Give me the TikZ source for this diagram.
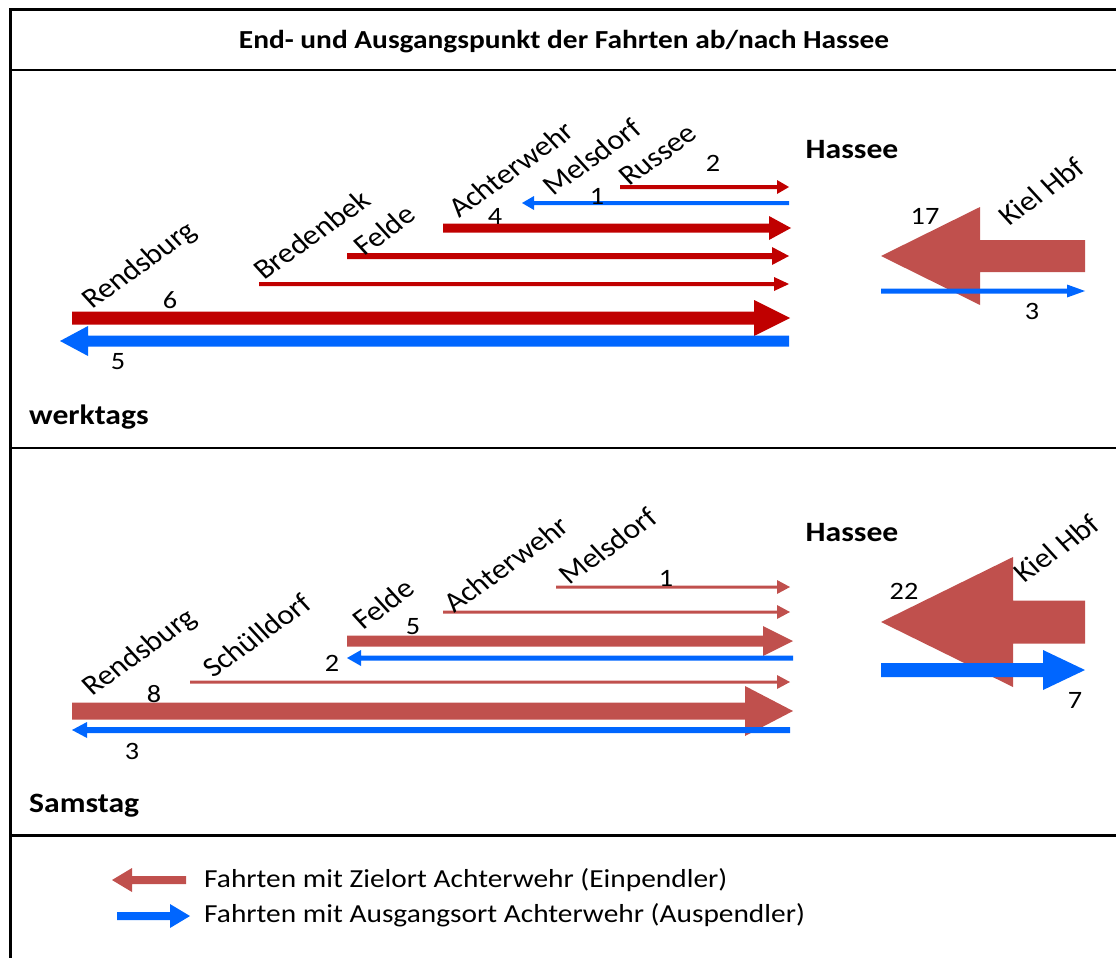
\documentclass[tikz,border=0pt]{standalone}
\usepackage{fontspec}
\setmainfont{Carlito}
\definecolor{dred}{HTML}{C00000}
\definecolor{lred}{HTML}{C0504D}
\definecolor{mblue}{HTML}{0066FF}
% #1 tail x, #2 tip x, #3 y, #4 shaft thickness, #5 head height, #6 signed head length, #7 colour
\newcommand{\flowarrow}[7]{\fill[#7] (#1,{#3-#4/2}) -- ({#2-(#6)},{#3-#4/2}) -- ({#2-(#6)},{#3-#5/2}) -- (#2,#3) -- ({#2-(#6)},{#3+#5/2}) -- ({#2-(#6)},{#3+#4/2}) -- (#1,{#3+#4/2}) -- cycle;}
\tikzset{
  num/.style={inner sep=0pt, xscale=1.13, font=\fontsize{25}{30}\selectfont},
  stn/.style={inner sep=0pt, anchor=base west, xscale=1.13, rotate=39, font=\fontsize{28}{33}\selectfont},
  hd/.style={inner sep=0pt, xscale=1.13, font=\bfseries\fontsize{28}{34}\selectfont},
  ttl/.style={inner sep=0pt, xscale=1.13, font=\bfseries\fontsize{26}{31}\selectfont},
  leg/.style={inner sep=0pt, anchor=west, xscale=1.13, font=\fontsize{26}{31}\selectfont},
  frame/.style={line width=3pt},
  sep/.style={line width=2pt}
}
\begin{document}
\begin{tikzpicture}[x=1pt,y=-1pt]
\useasboundingbox (0,0) rectangle (1116,958);
% frame
\draw[frame] (10,958) -- (10,10) -- (1120,10);
\draw[sep] (10,70) -- (1120,70);
\draw[sep] (10,448) -- (1120,448);
\draw[frame] (10,835) -- (1120,835);
\node[ttl] (title) at (564,42) {End- und Ausgangspunkt der Fahrten ab/nach Hassee};

% ---------- werktags ----------
\flowarrow{620}{789}{187}{4}{14}{12}{dred}
\flowarrow{789}{522}{203}{4}{14}{-12}{mblue}
\flowarrow{443}{791}{228}{9}{24}{22}{dred}
\flowarrow{347}{789}{256}{6}{18}{17}{dred}
\flowarrow{259}{789}{284}{4}{14}{15}{dred}
\flowarrow{72}{790}{318}{13}{36}{36}{dred}
\flowarrow{789}{60}{341}{11}{30}{-28}{mblue}
\flowarrow{1085}{881}{256}{32}{98}{-99}{lred}
\flowarrow{881}{1085}{291}{5}{13}{18}{mblue}

\node[stn] (wren) at (92,310) {Rendsburg};
\node[stn] (wbre) at (264,281) {Bredenbek};
\node[stn] (wfel) at (364,257) {Felde};
\node[stn] (wach) at (459,219) {Achterwehr};
\node[stn] (wmel) at (553,197) {Melsdorf};
\node[stn] (wrus) at (629,187) {Russee};
\node[stn] (wkiel) at (1009,227) {Kiel Hbf};
\node[hd] (whas) at (852,150) {Hassee};
\node[hd, anchor=west] (wlab) at (29,417) {werktags};
\node[num] (wn2) at (713,163) {2};
\node[num] (wn1) at (597,196) {1};
\node[num] (wn4) at (495,216) {4};
\node[num] (wn6) at (170,300) {6};
\node[num] (wn5) at (118,362) {5};
\node[num] (wn17) at (925,216) {17};
\node[num] (wn3) at (1032,311) {3};

% ---------- Samstag ----------
\flowarrow{556}{790}{587}{3}{14}{13}{lred}
\flowarrow{443}{790}{612}{3}{14}{13}{lred}
\flowarrow{347}{793}{641}{11}{30}{30}{lred}
\flowarrow{793}{347}{658}{5}{16}{-14}{mblue}
\flowarrow{190}{790}{682}{3}{14}{13}{lred}
\flowarrow{72}{793}{711}{17}{50}{48}{lred}
\flowarrow{790}{72}{730}{6}{16}{-15}{mblue}
\flowarrow{1085}{881}{622}{43}{130}{-132}{lred}
\flowarrow{881}{1085}{670}{14}{40}{42}{mblue}

\node[stn] (sren) at (92,697) {Rendsburg};
\node[stn] (ssch) at (213,679) {Schülldorf};
\node[stn] (sfel) at (363,631) {Felde};
\node[stn] (sach) at (454,614) {Achterwehr};
\node[stn] (smel) at (569,586) {Melsdorf};
\node[stn] (skiel) at (1024,584) {Kiel Hbf};
\node[hd] (shas) at (852,533) {Hassee};
\node[hd, anchor=west] (slab) at (29,806) {Samstag};
\node[num] (sn1) at (666,578) {1};
\node[num] (sn5) at (413,627) {5};
\node[num] (sn2) at (332,663) {2};
\node[num] (sn8) at (154,694) {8};
\node[num] (sn3) at (132,751) {3};
\node[num] (sn22) at (904,591) {22};
\node[num] (sn7) at (1075,700) {7};

% ---------- Legende ----------
\flowarrow{186}{112}{880}{8}{24}{-20}{lred}
\flowarrow{117}{190}{916}{8}{24}{20}{mblue}
\node[leg] (leg1) at (204,880) {Fahrten mit Zielort Achterwehr (Einpendler)};
\node[leg] (leg2) at (204,915) {Fahrten mit Ausgangsort Achterwehr (Auspendler)};
\end{tikzpicture}
\end{document}
